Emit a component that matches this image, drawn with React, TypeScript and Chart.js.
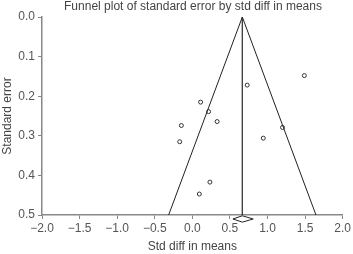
import React, { useEffect, useRef } from "react";
import { Chart, registerables } from "chart.js";

Chart.register(...registerables);

const titleText = "Funnel plot of standard error by std diff in means";
const xTitle = "Std diff in means";
const yTitle = "Standard error";

const studyEffect = [1.49, 0.73, 0.11, 0.216, 0.33, -0.146, 1.2, -0.168, 0.944, 0.234, 0.093];
const studySE = [0.148, 0.172, 0.215, 0.239, 0.264, 0.274, 0.279, 0.315, 0.306, 0.417, 0.447];

const pooledMean = 0.665;
const funnelSE = [0, 0.5];
const diamondX = [0.54, 0.665, 0.81, 0.665, 0.54];
const diamondY = [0.51, 0.502, 0.51, 0.518, 0.51];

const FONT = "Arial, 'Liberation Sans', sans-serif";

export default function App() {
  const ref = useRef<HTMLCanvasElement>(null);
  useEffect(() => {
    document.body.style.margin = "0";
    const ctx = ref.current!;
    const points = studyEffect.map((x, i) => ({ x, y: studySE[i] }));
    const leftLine = funnelSE.map((s) => ({ x: pooledMean - 1.96 * s, y: s }));
    const rightLine = funnelSE.map((s) => ({ x: pooledMean + 1.96 * s, y: s }));
    const midLine = funnelSE.map((s) => ({ x: pooledMean, y: s }));
    const diamond = diamondX.map((x, i) => ({ x, y: diamondY[i] }));

    const titlePlugin = {
      id: "customTitle",
      afterDraw(chart: any) {
        const c = chart.ctx;
        c.save();
        c.font = `12px ${FONT}`;
        c.fillStyle = "#444";
        c.textAlign = "center";
        c.textBaseline = "middle";
        c.fillText(titleText, 193, 7);
        c.restore();
      },
    };

    const lineStyle = {
      showLine: true,
      borderColor: "#222",
      borderWidth: 1,
      pointRadius: 0,
      fill: false,
    };

    const chart = new Chart(ctx, {
      type: "scatter",
      data: {
        datasets: [
          { data: leftLine, ...lineStyle },
          { data: rightLine, ...lineStyle },
          { data: midLine, ...lineStyle, borderWidth: 0.7, borderColor: "#333" },
          {
            data: diamond,
            showLine: true,
            borderColor: "#222",
            borderWidth: 1,
            backgroundColor: "#fff",
            fill: "shape",
            pointRadius: 0,
            clip: false,
          } as any,
          {
            data: points,
            pointRadius: 2,
            pointBorderWidth: 1,
            pointBorderColor: "#333",
            pointBackgroundColor: "#fff",
            showLine: false,
          },
        ],
      },
      options: {
        animation: false,
        responsive: false,
        layout: { padding: { top: 17, right: 9, left: 0, bottom: 0 } },
        plugins: {
          legend: { display: false },
          tooltip: { enabled: false },
          title: { display: false },
        },
        scales: {
          x: {
            type: "linear",
            min: -2,
            max: 2,
            afterFit: (s: any) => {
              s.height = 39;
            },
            ticks: {
              stepSize: 0.5,
              color: "#555",
              font: { size: 12, family: FONT },
              padding: 2,
              maxRotation: 0,
              callback: (v: any) => {
                const n = Number(v);
                const t = Math.abs(n).toFixed(1);
                return n < 0 ? "\u2212" + t : t;
              },
            },
            grid: { drawOnChartArea: false, drawTicks: true, tickLength: 4, color: "#888" },
            border: { display: true, color: "#888", width: 1.5 },
            title: {
              display: true,
              text: xTitle,
              color: "#444",
              font: { size: 12, family: FONT },
              padding: { top: 1, bottom: 0 },
            },
          },
          y: {
            type: "linear",
            min: 0,
            max: 0.5,
            reverse: true,
            afterFit: (s: any) => {
              s.width = 42;
            },
            ticks: {
              stepSize: 0.1,
              color: "#555",
              font: { size: 12, family: FONT },
              padding: 3,
              callback: (v: any) => Number(v).toFixed(1),
            },
            grid: { drawOnChartArea: false, drawTicks: true, tickLength: 4, color: "#888" },
            border: { display: true, color: "#888", width: 1.5 },
            title: {
              display: true,
              text: yTitle,
              color: "#444",
              font: { size: 12, family: FONT },
              padding: { top: 0, bottom: 0 },
            },
          },
        },
      },
      plugins: [titlePlugin],
    });
    return () => chart.destroy();
  }, []);
  return (
    <div style={{ width: 353, height: 254 }}>
      <canvas ref={ref} width={353} height={254} style={{ display: "block" }} />
    </div>
  );
}
